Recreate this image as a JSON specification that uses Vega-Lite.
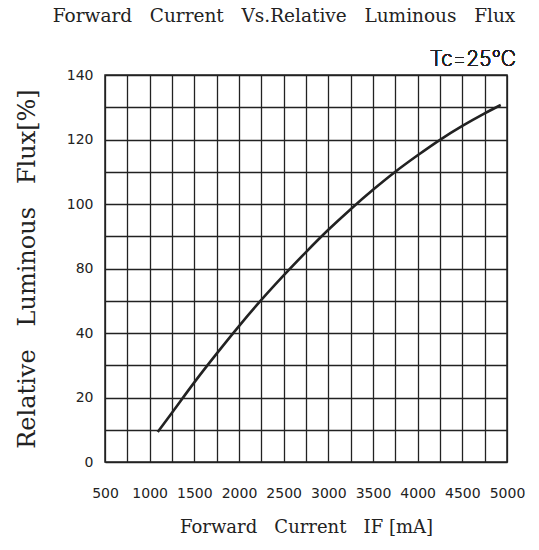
{
  "$schema": "https://vega.github.io/schema/vega-lite/v6.json",
  "autosize": "none",
  "width": 402,
  "height": 387,
  "padding": {"left": 105, "top": 75, "right": 32, "bottom": 88},
  "background": "white",
  "title": {
    "text": "Forward\u00a0\u00a0 Current\u00a0\u00a0 Vs.Relative\u00a0\u00a0 Luminous\u00a0\u00a0 Flux",
    "font": "DejaVu Serif",
    "fontSize": 18.5,
    "fontWeight": "normal",
    "color": "#222",
    "anchor": "middle",
    "frame": "group",
    "dx": -22,
    "baseline": "alphabetic",
    "offset": 9
  },
  "config": {
    "view": {"stroke": "#222", "strokeWidth": 1.5},
    "axis": {
      "domain": false,
      "ticks": false,
      "labelFont": "DejaVu Sans",
      "labelFontSize": 14,
      "labelColor": "#222",
      "titleFont": "DejaVu Serif",
      "titleFontWeight": "normal",
      "titleColor": "#222",
      "gridColor": "#222",
      "gridWidth": 1.3,
      "gridOpacity": 1
    }
  },
  "resolve": {"axis": {"x": "independent", "y": "independent"}},
  "data": {
    "values": [
      {"current": 1090, "flux": 9.3},
      {"current": 1250, "flux": 15.3},
      {"current": 1500, "flux": 24.7},
      {"current": 1750, "flux": 33.6},
      {"current": 2000, "flux": 44.3},
      {"current": 2250, "flux": 60.5},
      {"current": 2500, "flux": 75.7},
      {"current": 2750, "flux": 85.1},
      {"current": 3000, "flux": 92.0},
      {"current": 3250, "flux": 98.4},
      {"current": 3500, "flux": 104.4},
      {"current": 3750, "flux": 110.0},
      {"current": 4000, "flux": 115.1},
      {"current": 4250, "flux": 119.9},
      {"current": 4500, "flux": 124.2},
      {"current": 4750, "flux": 128.1},
      {"current": 4930, "flux": 130.7}
    ]
  },
  "layer": [
    {
      "mark": {"type": "text", "text": "Tc=25°C", "font": "Inter", "fontWeight": 200, "fontSize": 21, "align": "right", "baseline": "alphabetic", "dx": 9, "dy": -9, "color": "#222"},
      "encoding": {
        "x": {
          "datum": 5000, "type": "quantitative",
          "scale": {"domain": [500, 5000], "nice": false, "zero": false},
          "axis": {
            "orient": "bottom",
            "values": [500, 750, 1000, 1250, 1500, 1750, 2000, 2250, 2500, 2750, 3000, 3250, 3500, 3750, 4000, 4250, 4500, 4750, 5000],
            "grid": true,
            "labels": false,
            "title": null
          }
        },
        "y": {
          "datum": 140, "type": "quantitative",
          "scale": {"domain": [0, 40, 80, 140], "range": [387, 258, 193.5, 0], "nice": false, "zero": false},
          "axis": {
            "orient": "left",
            "values": [0, 10, 20, 30, 40, 60, 80, 90, 100, 110, 120, 130, 140],
            "grid": true,
            "labels": false,
            "title": null
          }
        }
      }
    },
    {
      "mark": {"type": "line", "color": "#222", "strokeWidth": 2.6, "interpolate": "monotone", "strokeCap": "butt"},
      "encoding": {
        "x": {
          "field": "current",
          "type": "quantitative",
          "axis": {
            "orient": "bottom",
            "grid": false,
            "values": [500, 1000, 1500, 2000, 2500, 3000, 3500, 4000, 4500, 5000],
            "format": "d",
            "labelPadding": 24,
            "labelDx": 4,
            "labelFlush": false,
            "labelOverlap": false,
            "title": "Forward\u00a0\u00a0 Current\u00a0\u00a0 IF [mA]",
            "titleFontSize": 18,
            "titleBaseline": "middle",
            "titleY": 65
          }
        },
        "y": {
          "field": "flux",
          "type": "quantitative",
          "axis": {
            "orient": "left",
            "grid": false,
            "values": [0, 20, 40, 80, 100, 120, 140],
            "labelPadding": 12,
            "labelOverlap": false,
            "title": "Relative\u00a0\u00a0 Luminous\u00a0\u00a0 Flux[%]",
            "titleFontSize": 24,
            "titleAngle": -90,
            "titleBaseline": "middle",
            "titleX": -78,
            "titleY": 193.5
          }
        }
      }
    }
  ]
}
